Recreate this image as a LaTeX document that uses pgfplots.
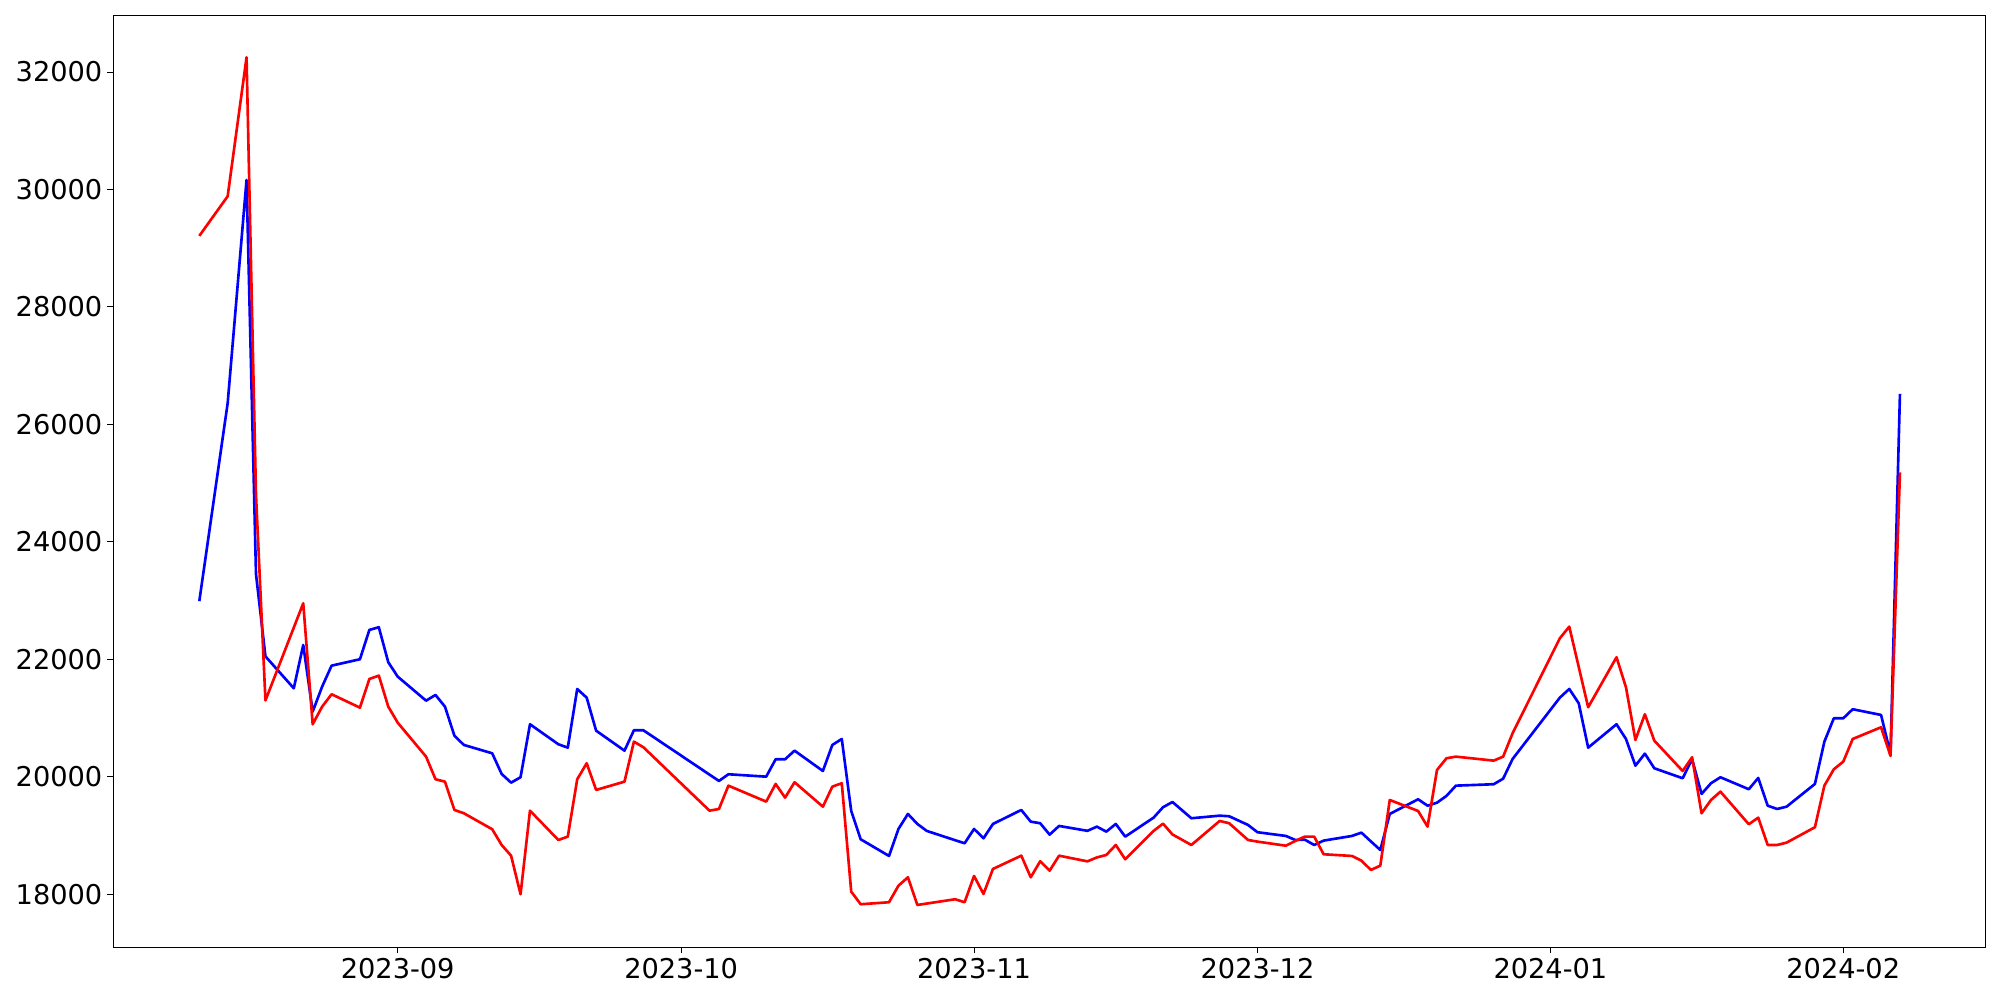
\documentclass[border=0pt]{standalone}
\usepackage{fontspec}
\setmainfont{DejaVu Sans}
\usepackage{pgfplots}
\usepackage{pgfplotstable}
\pgfplotsset{compat=1.18}
% x = days since 2023-09-01
\pgfplotstableread{
d blue red
-21 22990 29209
-18 26359 29883
-16 30161 32250
-15 23450 24800
-14 22050 21300
-11 21507 22540
-10 22244 22954
-9 21109 20894
-8 21535 21194
-7 21892 21405
-4 22001 21177
-3 22500 21665
-2 22546 21722
-1 21950 21194
0 21705 20921
3 21296 20343
4 21393 19958
5 21194 19917
6 20700 19435
7 20542 19379
10 20400 19107
11 20048 18839
12 19900 18657
13 19992 18000
14 20894 19423
17 20554 18924
18 20496 18981
19 21495 19958
20 21347 20230
21 20785 19776
24 20445 19917
25 20792 20598
26 20792 20503
33 20037 19423
34 19929 19452
35 20043 19849
39 20002 19577
40 20298 19878
41 20298 19645
42 20445 19907
45 20099 19491
46 20542 19832
47 20644 19890
48 19418 18044
49 18936 17830
52 18652 17864
53 19112 18146
54 19367 18289
55 19197 17818
56 19078 17842
59 18920 17915
60 18868 17864
61 19112 18312
62 18953 18005
63 19197 18431
66 19435 18657
67 19236 18289
68 19209 18562
69 19015 18402
70 19163 18657
73 19080 18560
74 19151 18627
75 19066 18669
76 19197 18839
77 18981 18596
80 19304 19078
81 19481 19202
82 19571 19018
84 19294 18839
87 19338 19248
88 19328 19209
90 19180 18924
91 19056 18896
94 18993 18827
95 18924 18907
96 18930 18981
97 18839 18981
98 18913 18681
101 18993 18652
102 19049 18572
103 18900 18414
104 18754 18487
105 19367 19605
108 19617 19418
109 19508 19151
110 19559 20116
111 19674 20315
112 19849 20343
116 19873 20275
117 19968 20343
118 20303 20741
123 21347 22358
124 21495 22556
125 21252 21870
126 20496 21184
129 20894 22035
130 20644 21524
131 20189 20627
132 20394 21065
133 20145 20615
136 19975 20099
137 20298 20332
138 19708 19379
139 19890 19605
140 19992 19747
143 19788 19192
144 19980 19304
145 19508 18839
146 19452 18839
147 19491 18879
150 19878 19141
151 20598 19849
152 20996 20128
153 20996 20258
154 21150 20644
157 21053 20843
158 20389 20355
159 26518 25181
}\datatable
\begin{document}
\begin{tikzpicture}
\path[use as bounding box] (0,0) rectangle (1440pt,720pt);
\begin{axis}[
  at={(81.6pt,38.2pt)}, anchor=south west,
  width=1347.6pt, height=670.8pt, scale only axis,
  xmin=-30.1, xmax=168, ymin=17103, ymax=32965,
  xtick={0,30,61,91,122,153},
  xticklabels={2023-09,2023-10,2023-11,2023-12,2024-01,2024-02},
  ytick={18000,20000,22000,24000,26000,28000,30000,32000},
  scaled y ticks=false,
  /pgf/number format/1000 sep={},
  /pgf/number format/assume math mode=true,
  tick label style={font=\fontsize{19.6pt}{23pt}\selectfont, text=black},
  tick align=outside, tick pos=left,
  major tick length=4.4pt,
  tick style={black, line width=0.58pt},
  axis line style={black, line width=0.58pt},
]
\addplot[blue, line width=1.9pt, line join=round] table[x=d, y=blue] {\datatable};
\addplot[red, line width=1.9pt, line join=round] table[x=d, y=red] {\datatable};
\end{axis}
\end{tikzpicture}
\end{document}
